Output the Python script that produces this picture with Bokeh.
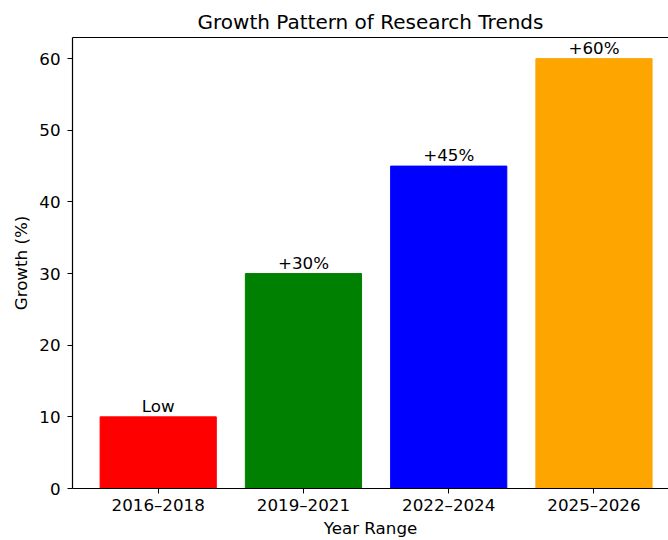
from bokeh.plotting import figure
from bokeh.models import ColumnDataSource, FixedTicker, LinearAxis, Range1d
from bokeh.embed import file_html
from bokeh.resources import INLINE
from bokeh.core.properties import value

categories = ["2016–2018", "2019–2021", "2022–2024", "2025–2026"]
growth = [10, 30, 45, 60]
labels = ["Low", "+30%", "+45%", "+60%"]
colors = ["red", "green", "blue", "orange"]
y_ticks = [0, 10, 20, 30, 40, 50, 60]

xs = list(range(len(categories)))
src = ColumnDataSource(dict(x=xs, top=growth, label=labels, color=colors))

FONT = "DejaVu Sans"
FS = "16.7px"

p = figure(width=668, height=540, output_backend="svg", toolbar_location=None,
           x_range=Range1d(-0.59, 3.513), y_range=Range1d(0, 62.95),
           title="Growth Pattern of Research Trends",
           min_border_left=72, min_border_top=37, min_border_bottom=52, min_border_right=0)
p.outline_line_color = None
p.xgrid.visible = False
p.ygrid.visible = False
p.background_fill_color = "white"
p.border_fill_color = "white"

p.title.align = "center"
p.title.text_font = FONT
p.title.text_font_size = "20px"
p.title.text_font_style = "normal"
p.title.text_color = "black"
p.title.standoff = 8

p.vbar(x="x", top="top", width=0.8, bottom=0, color="color", source=src)
p.text(x="x", y="top", text="label", source=src, text_align="center", text_baseline="bottom",
       text_font=value(FONT), text_font_size=FS, text_color="black", y_offset=-1)

for ax in (p.xaxis[0], p.yaxis[0]):
    ax.major_label_text_font = FONT
    ax.major_label_text_font_size = FS
    ax.major_label_text_color = "black"
    ax.axis_label_text_font = FONT
    ax.axis_label_text_font_size = FS
    ax.axis_label_text_font_style = "normal"
    ax.axis_label_text_color = "black"
    ax.major_tick_out = 5
    ax.major_tick_in = 0
    ax.minor_tick_out = 0
    ax.minor_tick_in = 0
    ax.axis_line_width = 1.2
    ax.axis_line_color = "black"
    ax.major_tick_line_color = "black"

p.xaxis.ticker = FixedTicker(ticks=xs)
p.xaxis.major_label_overrides = {i: c for i, c in zip(xs, categories)}
p.xaxis.axis_label = "Year Range"
p.xaxis.major_label_standoff = 1
p.xaxis.axis_label_standoff = 0
p.yaxis.ticker = FixedTicker(ticks=y_ticks)
p.yaxis.axis_label = "Growth (%)"
p.yaxis.major_label_standoff = 7

top_axis = LinearAxis(ticker=FixedTicker(ticks=[]), major_label_text_font_size="0px",
                      axis_line_color="black", axis_line_width=1.2)
top_axis.major_tick_out = 0
top_axis.minor_tick_out = 0
p.add_layout(top_axis, "above")

open("out.html", "w").write(file_html(p, INLINE))
